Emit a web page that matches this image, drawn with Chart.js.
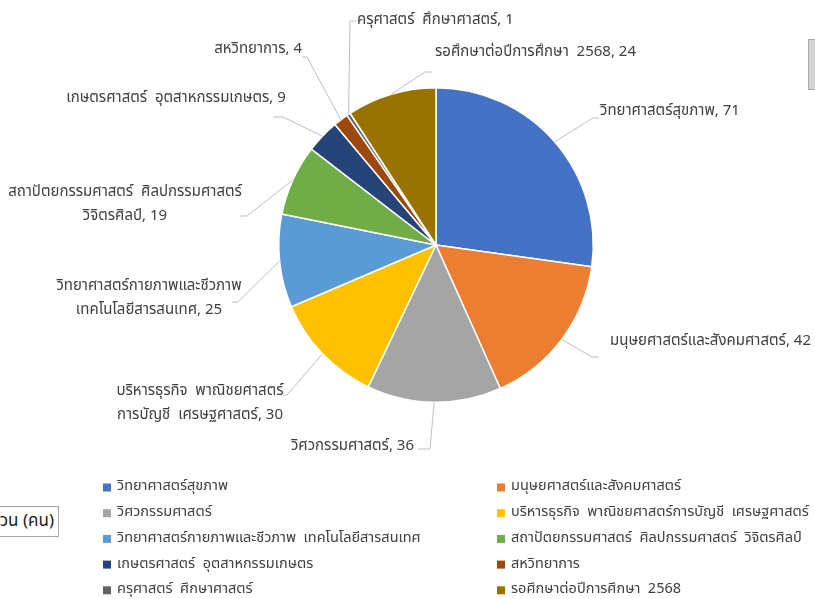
<!DOCTYPE html>
<html lang="th">
<head>
<meta charset="utf-8">
<script src="https://cdn.jsdelivr.net/npm/chart.js@4.4.1/dist/chart.umd.min.js"></script>
<style>
  html, body { margin: 0; padding: 0; background: #fff; }
  #wrap { position: relative; width: 815px; height: 599px; overflow: hidden; }
  #pie { position: absolute; left: 0; top: 0; }
  .scrollbar { position: absolute; left: 808px; top: 39px; width: 10px; height: 51px; background: #d4d4d4; border: 1px solid #ababab; box-sizing: border-box; }
  .axisBox { position: absolute; left: -60px; top: 506px; width: 119px; height: 31px; border: 1px solid #a6a6a6; box-sizing: border-box; background: #fff;
    font: 17px Tahoma, "Noto Sans Thai", sans-serif; color: #222; text-align: right; line-height: 29px; padding-right: 4px; white-space: nowrap; }
</style>
</head>
<body>
<div id="wrap">
  <canvas id="pie" width="815" height="599"></canvas>
  <div class="scrollbar"></div>
  <div class="axisBox">จำนวน (คน)</div>
</div>
<script>
// ===== ข้อมูล =====
const categories = [
  "วิทยาศาสตร์สุขภาพ",
  "มนุษยศาสตร์และสังคมศาสตร์",
  "วิศวกรรมศาสตร์",
  "บริหารธุรกิจ  พาณิชยศาสตร์การบัญชี  เศรษฐศาสตร์",
  "วิทยาศาสตร์กายภาพและชีวภาพ  เทคโนโลยีสารสนเทศ",
  "สถาปัตยกรรมศาสตร์  ศิลปกรรมศาสตร์  วิจิตรศิลป์",
  "เกษตรศาสตร์  อุตสาหกรรมเกษตร",
  "สหวิทยาการ",
  "ครุศาสตร์  ศึกษาศาสตร์",
  "รอศึกษาต่อปีการศึกษา  2568"
];
const students = [71, 42, 36, 30, 25, 19, 9, 4, 1, 24];
// ป้ายข้อมูลบนกราฟ (ตัดบรรทัดแบบ Excel)
const dataLabelLines = [
  ["วิทยาศาสตร์สุขภาพ, 71"],
  ["มนุษยศาสตร์และสังคมศาสตร์, 42"],
  ["วิศวกรรมศาสตร์, 36"],
  ["บริหารธุรกิจ  พาณิชยศาสตร์", "การบัญชี  เศรษฐศาสตร์, 30"],
  ["วิทยาศาสตร์กายภาพและชีวภาพ", "เทคโนโลยีสารสนเทศ, 25"],
  ["สถาปัตยกรรมศาสตร์  ศิลปกรรมศาสตร์", "วิจิตรศิลป์, 19"],
  ["เกษตรศาสตร์  อุตสาหกรรมเกษตร, 9"],
  ["สหวิทยาการ, 4"],
  ["ครุศาสตร์  ศึกษาศาสตร์, 1"],
  ["รอศึกษาต่อปีการศึกษา  2568, 24"]
];
const sliceColors = ["#4472C4", "#ED7D31", "#A5A5A5", "#FFC000", "#5B9BD5",
                     "#70AD47", "#264478", "#9E480E", "#636363", "#997300"];

// ===== ตำแหน่งป้าย (เทียบกับจุดศูนย์กลางวงกลม) =====
// tx,ty = จุดยึดข้อความ, align = การจัดข้อความ, ex,ey = จุดหักเส้นนำ, sx = ปลายเส้นสั้นแนวนอน
const labelLayout = [
  { tx: 164, ty: -133, align: "left",   ex: 157, ey: -127, sx: 163 },
  { tx: 174, ty: 97,   align: "left",   ex: 156, ey: 112,  sx: 163 },
  { tx: -22, ty: 202,  align: "right",  ex: -6,  ey: 204,  sx: -18 },
  { tx: -236, ty: 147, align: "center", ex: -149, ey: 150, sx: -153 },
  { tx: -287, ty: 42,  align: "center", ex: -198, ey: 57,  sx: -204 },
  { tx: -311, ty: -52, align: "center", ex: -189, ey: -29, sx: -196 },
  { tx: -260, ty: -146, align: "center", ex: -153, ey: -128, sx: -163 },
  { tx: -134, ty: -195, align: "right", ex: -129, ey: -188, sx: -134 },
  { tx: -79, ty: -224,  align: "left",  ex: -86, ey: -224,  sx: -80 },
  { tx: -1, ty: -192,   align: "left",  ex: -11, ey: -173,  sx: -4 }
];
const FONT_FAMILY = 'Tahoma, "Noto Sans Thai", "Leelawadee UI", sans-serif';
const LABEL_FONT = "15px " + FONT_FAMILY;
const LEGEND_FONT = "14.5px " + FONT_FAMILY;
const LINE_H = 24;

// ===== ป้ายข้อมูล + เส้นนำ =====
const leaderLabels = {
  id: "leaderLabels",
  afterDatasetsDraw(chart) {
    const ctx = chart.ctx;
    const arcs = chart.getDatasetMeta(0).data;
    ctx.save();
    ctx.font = LABEL_FONT;
    ctx.textBaseline = "middle";
    arcs.forEach((arc, i) => {
      const L = labelLayout[i];
      const cx = arc.x, cy = arc.y;
      const mid = (arc.startAngle + arc.endAngle) / 2;
      const r = arc.outerRadius;
      const px = cx + Math.cos(mid) * r;
      const py = cy + Math.sin(mid) * r;
      ctx.strokeStyle = "#bfbfbf";
      ctx.lineWidth = 1;
      ctx.beginPath();
      ctx.moveTo(px, py);
      ctx.lineTo(cx + L.ex, cy + L.ey);
      ctx.lineTo(cx + L.sx, cy + L.ey);
      ctx.stroke();
      ctx.fillStyle = "#404040";
      ctx.textAlign = L.align;
      dataLabelLines[i].forEach((t, k) => {
        ctx.fillText(t, cx + L.tx, cy + L.ty + k * LINE_H);
      });
    });
    ctx.restore();
  }
};

// ===== คำอธิบายสัญลักษณ์ (2 คอลัมน์) =====
const gridLegend = {
  id: "gridLegend",
  afterDraw(chart) {
    const ctx = chart.ctx;
    const colX = [103, 497];
    const rowY0 = 487.5, rowH = 25.7;
    ctx.save();
    ctx.font = LEGEND_FONT;
    ctx.textBaseline = "middle";
    ctx.textAlign = "left";
    chart.data.labels.forEach((lab, i) => {
      const x = colX[i % 2];
      const y = rowY0 + Math.floor(i / 2) * rowH;
      ctx.fillStyle = chart.data.datasets[0].backgroundColor[i];
      ctx.fillRect(x, y - 4, 8, 8);
      ctx.fillStyle = "#404040";
      ctx.fillText(lab, x + 14, y);
    });
    ctx.restore();
  }
};

new Chart(document.getElementById("pie"), {
  type: "pie",
  data: {
    labels: categories,
    datasets: [{
      data: students,
      backgroundColor: sliceColors,
      borderColor: "#ffffff",
      borderWidth: 1.5,
      hoverOffset: 0
    }]
  },
  options: {
    responsive: false,
    animation: false,
    layout: { padding: { top: 87, bottom: 196, left: 278, right: 221 } },
    plugins: {
      legend: { display: false },
      tooltip: { enabled: false }
    }
  },
  plugins: [leaderLabels, gridLegend]
});
</script>
</body>
</html>
